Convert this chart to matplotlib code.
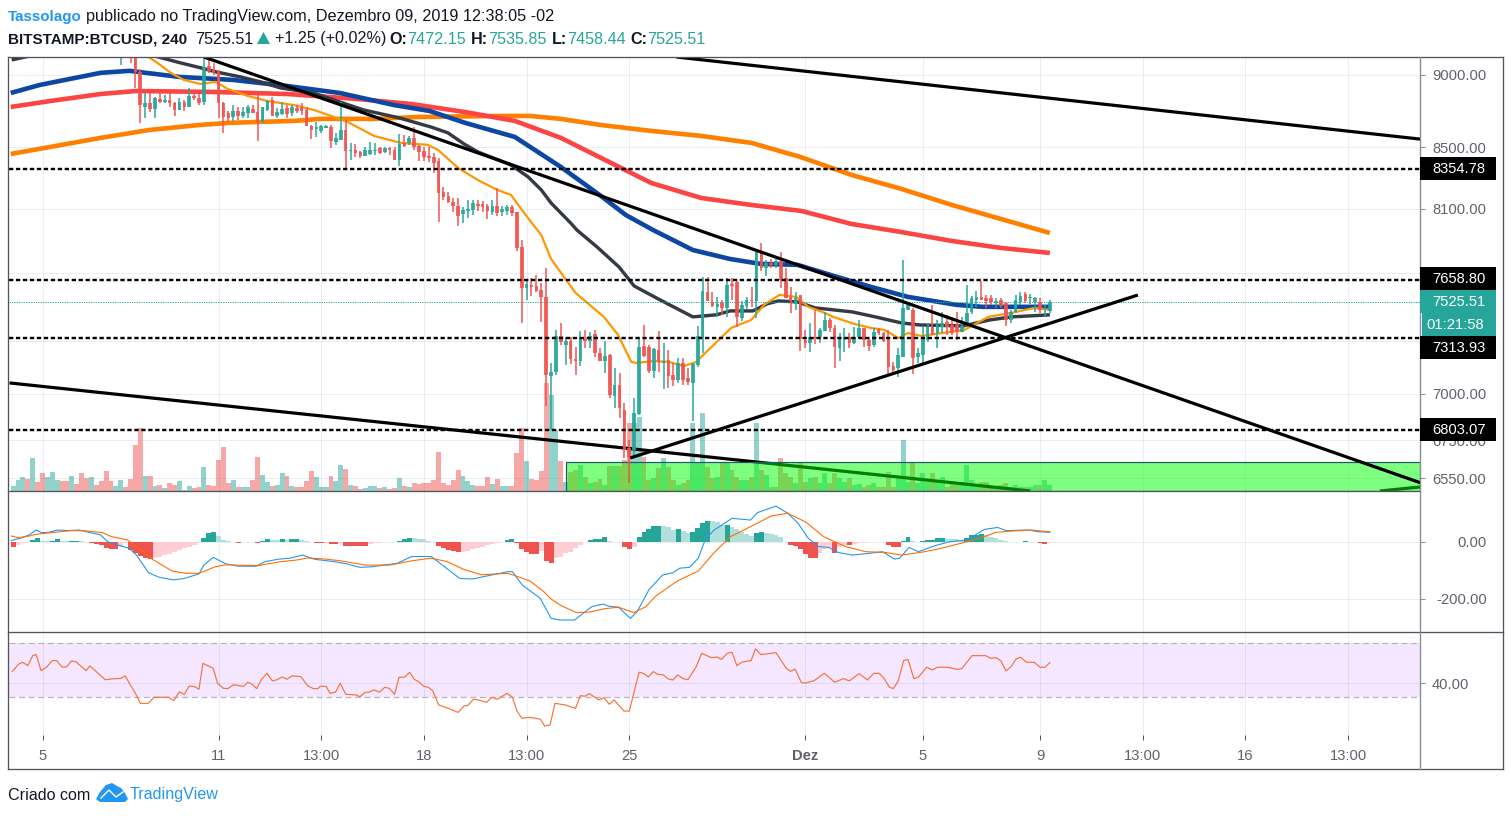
import matplotlib
matplotlib.use("Agg")
import matplotlib.pyplot as plt
from matplotlib.patches import Rectangle, Polygon
from matplotlib.ticker import FixedLocator, FixedFormatter, NullLocator
import numpy as np

W, H = 1511, 816
FONT = "Liberation Sans"
plt.rcParams["font.family"] = [FONT, "DejaVu Sans"]

UP, DOWN = "#26a69a", "#ef5350"

# ---------- candles: first visible bar is index 16, last is 206 ----------
first_candle = 16
c_open = [
 9180,9240,9240,9130,9020,8775,8802,8761,8830,8809,
 8823,8802,8754,8809,8775,8851,8837,8809,9064,9042,
 9028,8802,8734,8706,8747,8713,8734,8761,8740,8672,
 8754,8823,8713,8727,8768,8734,8768,8775,8754,8645,
 8625,8611,8632,8638,8537,8550,8618,8477,8483,8470,
 8443,8457,8477,8497,8470,8497,8483,8416,8530,8530,
 8564,8510,8477,8443,8436,8410,8207,8181,8142,8117,
 8066,8085,8091,8129,8129,8117,8079,8117,8079,8085,
 8110,8079,7859,7609,7627,7621,7597,7556,7100,7123,
 7327,7276,7298,7196,7184,7310,7298,7338,7230,7184,
 7219,6989,7050,6912,6708,6697,6890,7270,7264,7128,
 7247,7173,7190,7106,7078,7173,7089,7061,7162,7321,
 7585,7526,7497,7520,7491,7633,7645,7432,7503,7538,
 7532,7828,7730,7761,7749,7773,7669,7556,7515,7568,
 7304,7287,7321,7321,7356,7420,7373,7258,7304,7321,
 7287,7321,7373,7304,7276,7362,7344,7315,7156,7145,
 7207,7479,7479,7207,7219,7304,7379,7344,7379,7408,
 7391,7391,7350,7385,7467,7538,7556,7550,7550,7520,
 7538,7520,7420,7467,7526,7573,7550,7526,7526,7485,
 7472.15]
c_high = [
 9260,9280,9280,9200,9040,8872,8872,8844,8872,8858,
 8872,8809,8837,8823,8907,8872,8872,9142,9113,9085,
 9035,8809,8747,8788,8775,8775,8788,8788,8858,8775,
 8823,8844,8768,8809,8788,8788,8788,8802,8775,8652,
 8672,8652,8652,8652,8598,8809,8686,8530,8523,8477,
 8503,8537,8530,8503,8503,8503,8503,8591,8584,8577,
 8638,8517,8503,8503,8463,8430,8240,8207,8168,8168,
 8110,8155,8155,8155,8149,8129,8155,8233,8117,8123,
 8123,8079,7902,7651,7669,7687,7639,7730,7173,7362,
 7403,7321,7321,7264,7356,7362,7350,7362,7258,7298,
 7224,7145,7117,6950,6751,6978,7315,7391,7276,7258,
 7356,7287,7247,7173,7201,7201,7145,7173,7385,7675,
 7675,7585,7556,7538,7669,7669,7651,7532,7556,7615,
 7840,7884,7779,7785,7785,7828,7730,7615,7585,7568,
 7362,7403,7479,7373,7467,7432,7391,7344,7373,7344,
 7379,7420,7373,7315,7373,7373,7350,7362,7179,7258,
 7779,7526,7491,7258,7379,7403,7509,7420,7467,7450,
 7420,7467,7438,7627,7562,7591,7651,7568,7568,7550,
 7550,7526,7479,7568,7585,7585,7573,7556,7550,7509,
 7535.85]
c_low = [
 9071,9150,9085,8907,8666,8700,8740,8700,8802,8802,
 8775,8713,8754,8747,8775,8823,8788,8788,9014,8999,
 8700,8598,8672,8679,8686,8700,8700,8734,8543,8666,
 8747,8713,8700,8720,8700,8713,8734,8720,8645,8557,
 8570,8598,8632,8497,8517,8550,8363,8416,8436,8430,
 8443,8450,8450,8457,8463,8450,8416,8376,8503,8517,
 8483,8410,8410,8403,8330,8015,8155,8136,8079,7990,
 8009,8040,8059,8085,8079,8034,8059,8053,8053,8059,
 8053,7834,7403,7538,7562,7585,7408,6934,6805,7106,
 7276,7162,7167,7106,7156,7258,7258,7207,7184,7117,
 6978,6923,6869,6656,6525,6661,6885,7207,7117,7089,
 7123,7028,7034,7045,7061,7050,7050,6853,7151,7230,
 7532,7497,7438,7450,7438,7538,7379,7414,7479,7497,
 7432,7712,7681,7730,7730,7609,7550,7462,7479,7241,
 7258,7236,7281,7287,7356,7350,7145,7184,7236,7258,
 7281,7315,7264,7241,7264,7333,7293,7106,7123,7095,
 7207,7479,7111,7173,7162,7293,7333,7258,7344,7333,
 7333,7304,7350,7379,7456,7497,7538,7491,7509,7491,
 7491,7385,7403,7462,7509,7520,7515,7467,7462,7444,
 7458.44]
c_close = [
 9220,9210,9170,9020,8788,8802,8761,8837,8809,8823,
 8802,8754,8809,8775,8851,8837,8802,9057,9028,9014,
 8802,8706,8700,8747,8713,8740,8775,8734,8672,8775,
 8816,8713,8740,8761,8727,8775,8747,8747,8645,8618,
 8638,8645,8645,8543,8564,8618,8477,8483,8463,8443,
 8483,8483,8483,8463,8497,8483,8416,8523,8510,8564,
 8503,8470,8436,8430,8396,8200,8175,8142,8117,8053,
 8091,8097,8136,8117,8110,8085,8117,8072,8097,8110,
 8072,7852,7609,7633,7615,7591,7556,7106,7123,7327,
 7293,7298,7196,7184,7315,7298,7327,7230,7184,7213,
 6995,7050,6923,6697,6661,6896,7264,7213,7128,7252,
 7179,7184,7100,7078,7173,7078,7067,7167,7327,7591,
 7532,7503,7515,7491,7627,7621,7438,7509,7538,7532,
 7828,7730,7761,7749,7773,7657,7550,7532,7550,7310,
 7287,7321,7315,7362,7420,7373,7264,7310,7321,7287,
 7321,7373,7304,7270,7350,7344,7298,7151,7134,7219,
 7491,7509,7201,7230,7315,7379,7338,7391,7403,7379,
 7344,7350,7385,7462,7550,7556,7538,7532,7526,7532,
 7503,7420,7467,7538,7562,7532,7556,7550,7479,7491,
 7525.51]

# ---------- volume, bar index -6 .. 206 ----------
first_bar = -6
volume = [
 15,33,42,37,98,26,
 53,41,56,33,29,29,45,22,53,38,
 41,19,30,60,30,15,34,12,37,138,
 190,45,45,15,19,8,23,18,30,3,
 15,8,13,71,19,16,93,131,23,33,
 11,11,11,33,101,48,26,16,19,53,
 45,15,11,11,30,60,41,11,11,45,
 30,78,67,19,15,6,8,15,15,8,
 11,6,8,38,15,11,23,21,23,23,
 33,116,23,19,33,63,45,30,19,15,
 15,41,22,37,15,15,15,113,188,90,
 37,33,60,323,288,183,90,28,58,63,
 78,43,23,28,35,18,75,75,75,93,
 203,203,223,103,33,38,68,98,73,33,
 18,23,33,203,83,233,73,38,43,83,
 83,63,43,33,33,43,203,63,48,13,
 13,100,53,43,23,83,28,38,43,23,
 53,23,53,38,28,38,18,21,13,18,
 23,13,13,58,13,43,153,28,88,23,
 53,28,53,28,43,13,23,18,28,78,
 33,13,28,28,13,13,18,23,13,18,
 13,13,13,18,18,33,18]
# direction of the bars whose candle lies above the pane (index -6 .. 15)
early_up = "uuudud" "duuuddudddu" "ddddu"

# ---------- moving averages: (bar index, price) ----------
orange_i = [-6.5,1.6,11.9,22,32.3,38.3,51.4,57,68,77,93.8,99.7,106,114,124.5,134.7,145,155,165.4,175.6,186,196,206]
orange_p = [8456,8503,8564,8618,8652,8666,8679,8693,8693,8706,8713,8713,8693,8652,8611,8577,8530,8436,8318,8227,8123,8034,7946]
red_i = [-6.5,1.6,11.9,19.2,35.2,50,64.5,75.5,86.4,96.6,106,114.2,124.5,134.7,145,155.2,165.4,175.6,186,196,206]
red_p = [8775,8816,8865,8886,8879,8865,8830,8795,8740,8679,8564,8430,8265,8168,8123,8085,8003,7952,7896,7853,7822]
blue_i = [-6.5,-0.6,11.9,17.8,28,38.9,50,60.8,71.9,79.2,86.4,96.6,106,114.2,119.3,124.9,133,140.6,146.8,154.4,161.9,169.5,177,186.9,192.2,206]
blue_p = [8872,8928,9014,9028,8985,8964,8921,8872,8788,8747,8666,8570,8370,8181,8059,7964,7840,7785,7755,7749,7681,7615,7556,7509,7497,7497]
grey_i = [-6.3,-1.6,9.8,22.1,28.2,32.3,35.4,40.5,44.6,48.7,55.5,59.6,65.7,72.9,79.4,82.9,86.2,89,95.8,99.3,102,104,108,109.3,113.4,117.9,121,126.3,133,137.8,140.6,145.3,148.2,150.5,154.4,158,165.6,170.3,175.6,179.3,188.3,193.7,198.2,206]
grey_p = [9106,9142,9220,9142,9085,9050,9021,8985,8950,8907,8872,8823,8754,8700,8638,8598,8523,8470,8383,8305,8220,8136,8009,7964,7859,7736,7621,7538,7438,7450,7473,7473,7515,7532,7526,7491,7467,7438,7403,7391,7385,7420,7438,7450]
thin_i = [21,23.5,26.2,28.9,32.3,35.4,37.9,42,46,51.4,55.5,59.6,62.4,67.8,73.3,78.8,80.9,85,89,93,95.8,98.5,102,104,109,114.8,117.7,120.4,121.4,125,128,131.2,133.7,134.7,140.8,144.9,147.6,150.7,154.1,156.6,159.9,161.7,166,169.5,172.2,175,177,179.7,188.5,190,193.4,198.2,202.9,206]
thin_p = [9142,9085,9014,8964,8935,8950,8900,8851,8816,8788,8754,8706,8672,8577,8530,8517,8483,8363,8285,8220,8188,8072,7933,7785,7580,7438,7333,7179,7173,7184,7179,7156,7179,7207,7373,7420,7509,7568,7556,7497,7462,7438,7397,7373,7362,7315,7344,7327,7362,7385,7438,7462,7491,7479]

# ---------- drawings ----------
levels = [8354.78, 7658.80, 7313.93, 6803.07]
last_price = 7525.51
trend_over = [([129.6, 281.9], [9127, 8555]),
              ([33, 281.9], [9127, 6526]),
              ([120.2, 224], [6656, 7567])]
trend_under = [([-6.75, 202], [7061, 6485]),
               ([273.5, 281.9], [6485, 6506])]
zone_i = [107, 281.6]
zone_p = [6485, 6635]

# ---------- MACD ----------
macd_i = [-6.4,-4.2,-2.7,-1.3,-.2,1.3,3.1,5.3,7.5,9.7,11.9,13.3,15.5,17.7,19.2,21.7,23.9,26.8,29,32,33,34.9,37.5,40,43.7,45.5,48.4,50.6,53.2,55.7,59.7,62.3,64.9,67.4,72.5,75.5,79.5,85.3,87.9,95.2,96.1,98.1,101.8,104,
 106,108.8,112.3,114.7,115.7,117.8,120.2,121.6,124,126.8,128.9,130.3,132.3,134.1,135.5,137.2,141,144.8,146.2,150,152.4,154.5,156.6,158.6,160.7,162.8,165.6,169,171.8,174.2,175.3,177.2,179.1,182.9,185.6,189.1,192.6,195.3,197.1,201.6,203.6,206]
macd_v = [5,15,25,42,33,34,42,40,42,33,25,1,-11,-22,-46,-108,-124,-133,-128,-112,-81,-54,-77,-85,-85,-69,-60,-57,-46,-61,-69,-77,-89,-87,-75,-51,-51,-128,-130,-104,-104,-151,-198,-268,
 -274,-274,-227,-218,-225,-229,-268,-245,-168,-116,-108,-92,-89,-57,7,40,83,77,103,126,101,66,13,-16,-19,-37,-46,-40,-34,-60,-57,-19,-34,-11,1,7,44,51,40,42,36,34]
signal_i = [-6.4,-4.9,-2.7,-1.3,2.4,6,8.9,12.2,14.1,17.4,20.6,22.5,26.5,29.4,32,35.3,37.5,44,48.4,52.1,54.3,57.9,60.9,66,71.1,75.5,79.5,82.8,86.1,89.7,95.2,99.6,102.5,104,106,109.2,111.9,115,117.8,120.9,123.4,125.4,129.9,134.1,137.2,140.7,144.8,149,152.4,156.2,159.7,164.2,168.3,172.5,175.6,180.1,183.6,188.4,192.6,195,198.8,202.2,206]
signal_v = [21,15,21,27,34,40,39,33,19,7,-34,-61,-102,-110,-110,-87,-80,-83,-70,-63,-56,-60,-66,-81,-81,-66,-57,-69,-96,-115,-110,-136,-174,-200,-223,-248,-246,-234,-229,-248,-227,-190,-136,-102,-40,19,54,91,101,69,19,-16,-34,-37,-46,-35,-23,-2,19,34,39,42,36]
hist = [
 -16,-11,-5,1,7,14,
 3,2,5,9,4,2,3,4,2,1,
 -3,-6,-10,-20,-25,-26,-16,-5,-28,-40,
 -48,-55,-60,-57,-51,-47,-42,-36,-28,-22,
 -16,-11,-2,15,30,34,22,7,3,1,
 -3,-1,0.5,0.5,-3,3,9,7,6,9,
 7,9,10,7,3,0.5,-3,-3,-2,-8,
 -8,-3,-13,-13,-13,-13,-13,-7,-5,-3,
 -1,0.5,1,3,9,14,13,11,9,4,
 1,-14,-22,-28,-32,-35,-34,-30,-26,-21,
 -16,-12,-7,-2,0,7,9,-5,-26,-34,
 -42,-43,-30,-66,-73,-57,-51,-40,-34,-22,
 -11,-1,7,9,12,16,4,1,-1,-16,
 -26,-16,16,36,46,55,57,56,54,42,
 44,40,33,35,48,66,75,74,71,58,
 60,54,44,36,28,20,33,35,33,28,
 25,16,1,-10,-14,-26,-42,-55,-57,-40,
 -26,-22,-37,-16,-11,-11,-7,-5,-2,-1,
 -1,-1,-1,-10,-16,-16,5,16,5,1,
 5,7,8,13,14,12,11,9,7,14,
 23,25,27,23,19,14,7,3,1,0.5,
 0.5,3,1,0,-3,-7,-2]

# ---------- RSI ----------
rsi_i = [-6.2,-4.9,-4.1,-3,-2,-1.3,-.3,.8,2,2.9,4,4.9,5.9,6.9,8.9,9.7,12.8,14.8,15.9,16.9,19,20,21.6,22.8,25.8,26.8,28,29,30,31.1,32,32.8,34.9,35.8,37,37.9,39.1,41.1,42,42.9,43.8,44.8,45.9,47,48,49,50,51,52.8,54.3,55.4,56.3,56.8,58,58.8,59.9,60.9,62,64.1,64.9,66,66.7,67.8,68.9,70,70.9,72,72.9,74,75.1,76,76.9,78,78.9,79.8,81,82.8,85,86.2,87,88.1,89.2,90.8,91.9,93,95,96.1,97,98,99.3,100.2,101.8,102.7,103.8,104.8,
 106.9,109,110,110.9,111.8,113.8,114.8,115.9,116.9,118.9,120,122,122.9,123.9,124.9,125.8,127,128,128.9,129.9,131,132,133.7,134.8,136.8,137.9,138.9,140,141,142,143.1,144.9,145.8,146.9,148.9,150,152.1,153,153.9,155.2,156.1,157.8,159.9,162,163.8,165,167,168.7,170,171.1,172.1,173.2,174,175,176.1,177,178.2,179.1,180.8,182,183,185,187,188,190.1,192.9,193.9,195,196,197,198.1,199.1,200,201.2,202.8,204,205,206]
rsi_v = [48.8,54.2,55.7,53.2,60.6,61.4,49.5,52,56.9,56.9,52.2,52.2,56.7,55.9,49.5,53,42.8,43.6,43.6,45.6,32.7,25.3,25.3,29.8,29.8,27.3,33.7,32,38.1,37.7,35.7,54.9,51.2,40.1,36.4,36.2,39.1,37.9,40.9,39.4,36.2,43.1,47.5,41.9,42.8,44.8,43.1,45.6,45.1,38.1,36.2,36.2,37.9,37.9,32.7,33.5,40.1,32,31.5,30.2,33.5,33.5,35.2,33.5,37.2,36.4,32,44.6,44.6,48.3,43.1,41.4,37.9,37.2,34.7,24.1,21.9,18.6,23.3,23.8,28.3,27.8,26,29.8,28.3,32.7,29.8,19.9,14.2,14.9,14.7,13.5,8.5,9.3,25.3,
 24.1,21.6,31,30.5,32.5,27.8,29.5,24.6,27.8,19.6,19.6,48.3,47.5,44.8,48.8,46.8,46.3,43.3,42.6,46.3,43.6,42.8,52.5,62.3,59.1,59.6,57.9,62.3,63.1,53.2,55.9,56.9,65.6,61.4,62.3,62.8,51.2,49,50.7,40.6,40.4,42.1,47.5,40.9,43.6,41.9,47.3,42.6,47.5,47.5,43.8,37.2,36.2,41.9,56.9,57.7,43.6,44.6,52,50,52,52,50.5,51,60.6,60.6,58.6,59.1,56.7,49.3,52.5,58.1,59.4,55.7,55.7,52,52,55.4]

# ---------- axis labels ----------
xtick_pos = [0, 36, 57, 78, 99, 120, 156, 180, 204, 225, 246, 267]
xtick_lab = ["5", "11", "13:00", "18", "13:00", "25", "Dez", "5", "9", "13:00", "16", "13:00"]
price_ticks = [9000, 8500, 8100, 7700, 7300, 7000, 6750, 6550]
price_hidden = [7700, 7300]   # grid lines whose labels lie fully behind the level boxes
macd_ticks = [0, -200]
rsi_ticks = [40]

assert len(c_open) == len(c_high) == len(c_low) == len(c_close), (len(c_open), len(c_high), len(c_low), len(c_close))
assert len(volume) == len(hist), (len(volume), len(hist))

# ---------- layout ----------
fig = plt.figure(figsize=(W / 100, H / 100), dpi=100, facecolor="white")
PX = 0.72  # one pixel, in points


def pane(x0, y0, x1, y1, **kw):
    return fig.add_axes([x0 / W, 1 - y1 / H, (x1 - x0) / W, (y1 - y0) / H], **kw)


XLIM = (-6.851, 281.7)
GRID = dict(color="#2a6aa0", alpha=0.10, lw=1.0 * PX)
TXT = "#5f626c"

vax = pane(9, 57, 1420, 491, zorder=1)
ax = pane(9, 57, 1420, 491, zorder=2)
ax.patch.set_alpha(0)
max_ = pane(9, 491, 1420, 632, zorder=2)
rax = pane(9, 632, 1420, 735, zorder=2)
for a in (vax, ax, max_, rax):
    for s in a.spines.values():
        s.set_visible(False)
    a.set_xlim(*XLIM)
    a.xaxis.set_major_locator(FixedLocator(xtick_pos))
    a.grid(True, axis="x", **GRID)
    a.set_axisbelow(True)
    a.tick_params(axis="x", length=0, labelbottom=False)
    a.yaxis.tick_right()

# volume
vax.set_ylim(0, 1302)
vax.set_yticks([])
vax.grid(False)
bars = np.arange(first_bar, first_bar + len(volume))
vcol = []
for b in bars:
    if b < first_candle:
        up = early_up[b - first_bar] == "u"
    else:
        k = b - first_candle
        up = c_close[k] >= c_open[k]
    vcol.append(UP if up else DOWN)
vax.bar(bars, volume, width=1.0, color=vcol, alpha=0.5, lw=0)

# price pane
ax.set_yscale("log")
ax.set_ylim(6485, 9127)
ax.yaxis.set_major_locator(FixedLocator(price_ticks))
ax.yaxis.set_major_formatter(FixedFormatter(["" if p in price_hidden else f"{p:.2f}" for p in price_ticks]))
ax.yaxis.set_minor_locator(NullLocator())
ax.grid(True, axis="y", **GRID)

for xs, ys in trend_under:
    ax.plot(xs, ys, color="black", lw=3.2 * PX, zorder=2, solid_capstyle="butt")
ax.add_patch(Rectangle((zone_i[0], zone_p[0]), zone_i[1] - zone_i[0], zone_p[1] - zone_p[0],
                       facecolor=(0, 1, 0, 0.5), edgecolor="#1d5a6e", lw=1.2 * PX, zorder=2.5))
ax.plot(orange_i, orange_p, color="#ff8000", lw=4.6 * PX, zorder=3, solid_capstyle="butt")
ax.plot(red_i, red_p, color="#fb4545", lw=4.6 * PX, zorder=3, solid_capstyle="butt")
ax.plot(blue_i, blue_p, color="#0d47a1", lw=4.6 * PX, zorder=3, solid_capstyle="butt")
ax.plot(grey_i, grey_p, color="#363a45", lw=3.4 * PX, zorder=3, solid_capstyle="butt")
ax.plot(thin_i, thin_p, color="#ff9800", lw=2.2 * PX, zorder=3)

idx = np.arange(first_candle, first_candle + len(c_open))
o, h, l, c = map(np.array, (c_open, c_high, c_low, c_close))
ccol = [UP if cc >= oo else DOWN for oo, cc in zip(o, c)]
ax.vlines(idx, l, h, colors=ccol, lw=1.5 * PX, zorder=4)
ax.bar(idx, np.maximum(np.abs(c - o), 2), bottom=np.minimum(o, c), width=0.74,
       color=ccol, alpha=0.85, lw=0, zorder=4)

ax.axhline(last_price, color=UP, lw=1.0 * PX, ls=(0, (1.2, 1.2)), zorder=3.5)
for lv in levels:
    ax.axhline(lv, color="black", lw=2.4 * PX, ls=(0, (1.8, 1.1)), zorder=5)
for xs, ys in trend_over:
    ax.plot(xs, ys, color="black", lw=3.2 * PX, zorder=5, solid_capstyle="butt")
ax.tick_params(axis="y", which="major", length=5 * PX, width=1 * PX, color="#8a8d96",
               labelsize=10.6, labelcolor=TXT, pad=7 * PX)

# MACD pane
max_.set_ylim(-316, 179)
max_.yaxis.set_major_locator(FixedLocator(macd_ticks))
max_.yaxis.set_major_formatter(FixedFormatter([f"{v:.2f}" for v in macd_ticks]))
max_.grid(True, axis="y", **GRID)
hcol = []
for k, v in enumerate(hist):
    prev = hist[k - 1] if k else v
    if v >= 0:
        hcol.append("#26a69a" if prev < v else "#b2dfdb")
    else:
        hcol.append("#ffcdd2" if prev < v else "#ef5350")
max_.bar(bars, hist, width=1.0, color=hcol, lw=0, zorder=2)
max_.plot(macd_i, macd_v, color="#2196f3", lw=1.1 * PX, zorder=3)
max_.plot(signal_i, signal_v, color="#ff6d00", lw=1.1 * PX, zorder=3)
max_.tick_params(axis="y", length=5 * PX, width=1 * PX, color="#8a8d96",
                 labelsize=10.6, labelcolor=TXT, pad=62 * PX)
for lab in max_.get_yticklabels():
    lab.set_ha("right")

# RSI pane
rax.set_ylim(1.85, 78.1)
rax.axhspan(30, 70, color="#9915ff", alpha=0.10, lw=0, zorder=1)
rax.axhline(70, color="#b9b4bd", lw=1.2 * PX, ls=(0, (5, 3)), zorder=1.5)
rax.axhline(30, color="#b9b4bd", lw=1.2 * PX, ls=(0, (5, 3)), zorder=1.5)
rax.yaxis.set_major_locator(FixedLocator(rsi_ticks))
rax.yaxis.set_major_formatter(FixedFormatter([f"{v:.2f}" for v in rsi_ticks]))
rax.grid(True, axis="y", **GRID)
rax.plot(rsi_i, rsi_v, color="#f7743b", lw=1.2 * PX, zorder=3)
rax.tick_params(axis="y", length=5 * PX, width=1 * PX, color="#8a8d96",
                labelsize=10.6, labelcolor=TXT, pad=7 * PX)
rax.xaxis.set_major_formatter(FixedFormatter(xtick_lab))
rax.tick_params(axis="x", length=5 * PX, width=1 * PX, color="#50535e", labelbottom=True,
                labelsize=10.6, labelcolor=TXT, pad=9 * PX)
for lab, t in zip(rax.get_xticklabels(), xtick_lab):
    if t == "Dez":
        lab.set_fontweight("bold")

# overlay in pixels: frame, price labels, header, footer
ov = fig.add_axes([0, 0, 1, 1], zorder=10)
ov.set_xlim(0, W)
ov.set_ylim(H, 0)
ov.axis("off")
ov.patch.set_alpha(0)
FRAME = "#50535e"
for (x0, y0, x1, y1) in [(8, 57, 1503, 57), (8, 57, 8, 769), (1503, 57, 1503, 769), (8, 769, 1503, 769),
                         (8, 491, 1420, 491), (8, 632, 1503, 632)]:
    ov.plot([x0, x1], [y0, y1], color=FRAME, lw=1.3 * PX, solid_capstyle="projecting")
ov.plot([1420, 1420], [57, 769], color="#8a8d96", lw=1.4 * PX)


def price_y(p):
    return H - ax.transData.transform((0, p))[1]


def price_box(text, yc, face, x0=1420, x1=1496, h=23):
    ov.add_patch(Rectangle((x0, yc - h / 2), x1 - x0, h, facecolor=face, edgecolor="none", zorder=3))
    ov.text(1432, yc + 0.5, text, color="white", fontsize=10.6, va="center", ha="left", zorder=4)


for lv, off in zip(levels, [0, -0.5, 10.5, 0]):
    price_box(f"{lv:.2f}", price_y(lv) - 1 + off, "black")
price_box(f"{last_price:.2f}", price_y(last_price) - 1, UP)
ov.add_patch(Rectangle((1422, 313), 74, 23, facecolor=UP, edgecolor="none", zorder=5))
ov.text(1426, 325, "01:21:58", color="white", fontsize=10.6, va="center", ha="left", zorder=6)


def put(x, y, s, color="#131722", weight="normal", size=11.6):
    ov.text(x, y + 1, s, color=color, fontweight=weight, fontsize=size, va="center", ha="left")


BLUE = "#2196f3"
put(8, 16, "Tassolago", BLUE, "bold", 10.9)
put(86, 16, "publicado no TradingView.com, Dezembro 09, 2019 12:38:05 -02", size=11.7)
put(8, 38, "BITSTAMP:BTCUSD, 240", weight="bold", size=11.0)
put(195, 38, "7525.51")
ov.add_patch(Polygon([(257, 44), (270, 44), (263.5, 32)], closed=True, facecolor=UP, edgecolor="none"))
put(275, 38, "+1.25 (+0.02%)")
for x, s in [(389, "O:"), (471, "H:"), (552, "L:"), (630, "C:")]:
    put(x, 38, s, weight="bold")
for x, s in [(407, "7472.15"), (488, "7535.85"), (567, "7458.44"), (647, "7525.51")]:
    put(x, 38, s, UP)

put(8, 794, "Criado com", size=11.6)
ov.add_patch(Polygon([(96, 799), (100, 792), (106, 785), (112, 783), (117, 786), (121, 788),
                      (125, 793), (128, 799), (125, 802), (100, 802)], closed=True,
                     facecolor=BLUE, edgecolor="none"))
ov.plot([101, 109, 116, 123], [798, 790, 797, 792], color="white", lw=1.4 * PX)
put(130, 794, "TradingView", BLUE, size=11.6)

fig.savefig("out.png", dpi=100)
